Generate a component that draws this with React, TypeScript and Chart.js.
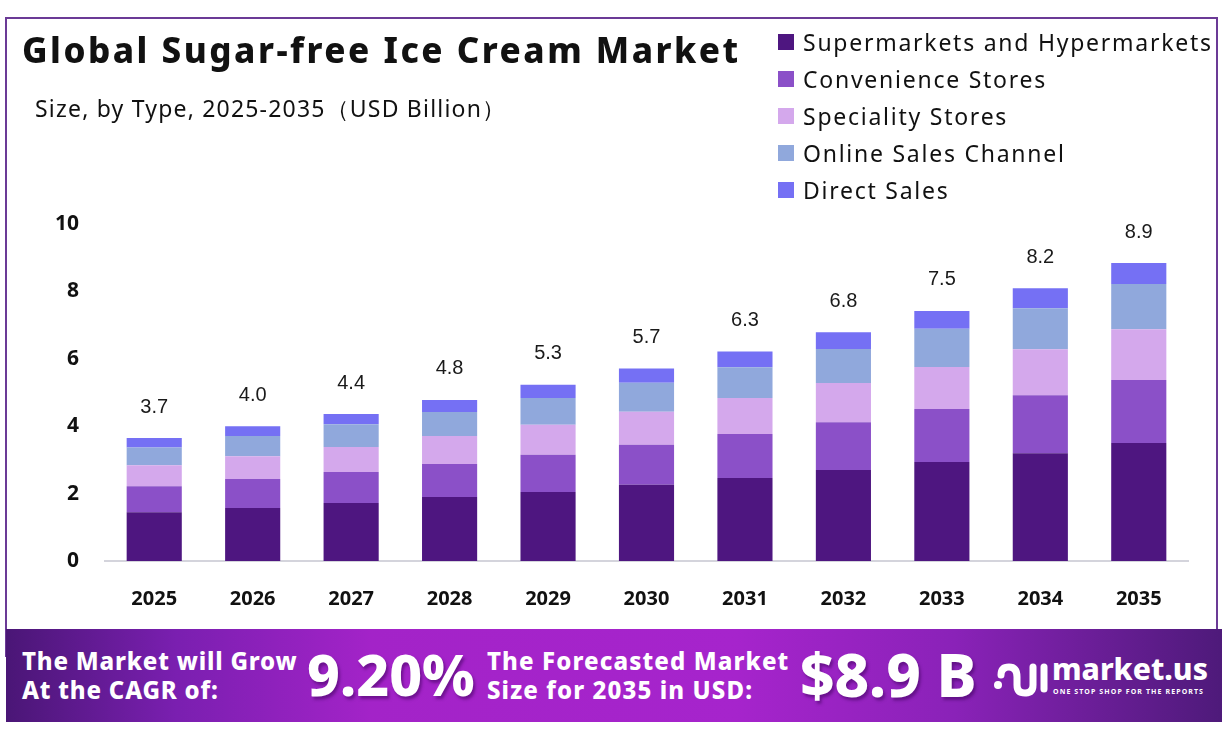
import React, { useEffect, useRef } from "react";
import { Chart, registerables } from "chart.js";

Chart.register(...registerables);

const years = ["2025", "2026", "2027", "2028", "2029", "2030", "2031", "2032", "2033", "2034", "2035"];
const supermarkets = [1.45, 1.57, 1.72, 1.9, 2.05, 2.26, 2.46, 2.7, 2.94, 3.2, 3.5];
const convenience = [0.77, 0.86, 0.92, 0.98, 1.1, 1.19, 1.31, 1.42, 1.57, 1.72, 1.87];
const speciality = [0.62, 0.68, 0.74, 0.83, 0.89, 0.98, 1.07, 1.16, 1.25, 1.36, 1.51];
const online = [0.53, 0.6, 0.68, 0.71, 0.8, 0.86, 0.91, 1.01, 1.13, 1.22, 1.34];
const direct = [0.28, 0.29, 0.3, 0.36, 0.39, 0.42, 0.47, 0.5, 0.53, 0.59, 0.62];
const totals = ["3.7", "4.0", "4.4", "4.8", "5.3", "5.7", "6.3", "6.8", "7.5", "8.2", "8.9"];
const seriesNames = [
  "Supermarkets and Hypermarkets",
  "Convenience Stores",
  "Speciality Stores",
  "Online Sales Channel",
  "Direct Sales",
];
const seriesColors = ["#4e1680", "#8b50c8", "#d4a8ec", "#90a8dc", "#7570f4"];
const yTicks = [0, 2, 4, 6, 8, 10];

const FONT = "'Noto Sans', 'DejaVu Sans', sans-serif";

const totalsPlugin = {
  id: "totals",
  afterDatasetsDraw(chart: any) {
    const ctx = chart.ctx;
    const last = chart.getDatasetMeta(chart.data.datasets.length - 1);
    ctx.save();
    ctx.font = "20px 'Liberation Sans', Arial, sans-serif";
    ctx.fillStyle = "#1a1a1a";
    ctx.textAlign = "center";
    ctx.textBaseline = "middle";
    last.data.forEach((bar: any, i: number) => {
      ctx.fillText(totals[i], bar.x, bar.y - 31);
    });
    ctx.restore();
  },
};

function ChartCanvas() {
  const ref = useRef<HTMLCanvasElement | null>(null);
  useEffect(() => {
    if (!ref.current) return;
    const data = [supermarkets, convenience, speciality, online, direct];
    const chart = new Chart(ref.current, {
      type: "bar",
      data: {
        labels: years,
        datasets: data.map((d, i) => ({
          label: seriesNames[i],
          data: d,
          backgroundColor: seriesColors[i],
          borderWidth: 0,
          barPercentage: 0.56,
          categoryPercentage: 1,
        })),
      },
      options: {
        animation: false,
        responsive: false,
        maintainAspectRatio: false,
        devicePixelRatio: 1,
        layout: { padding: { left: 0, top: 224, right: 36, bottom: 0 } },
        plugins: {
          legend: { display: false },
          tooltip: { enabled: false },
          title: { display: false },
        },
        scales: {
          x: {
            stacked: true,
            grid: { display: false, drawTicks: false },
            border: { display: true, color: "#d4d4dc", width: 2 },
            ticks: {
              padding: 26,
              color: "#111",
              font: { family: FONT, size: 20, weight: "bold" },
            },
            afterFit: (s: any) => {
              s.height = 741 - 561;
            },
          },
          y: {
            stacked: true,
            min: 0,
            max: 10,
            grid: { display: false, drawTicks: false },
            border: { display: false },
            afterBuildTicks: (s: any) => {
              s.ticks = yTicks.map((v) => ({ value: v }));
            },
            ticks: {
              padding: 26,
              color: "#111",
              font: { family: FONT, size: 21, weight: "bold" },
            },
            afterFit: (s: any) => {
              s.width = 105;
            },
          },
        },
      },
      plugins: [totalsPlugin],
    });
    return () => chart.destroy();
  }, []);
  return (
    <canvas
      ref={ref}
      width={1224}
      height={741}
      style={{ position: "absolute", left: 0, top: 0, width: 1224, height: 741 }}
    />
  );
}

export default function App() {
  return (
    <div
      style={{
        position: "fixed",
        left: 0,
        top: 0,
        width: 1224,
        height: 741,
        background: "#fff",
        overflow: "hidden",
        fontFamily: FONT,
      }}
    >
      <div
        style={{
          position: "absolute",
          left: 5,
          top: 17,
          width: 1213,
          height: 640,
          border: "2px solid #6b3a96",
          boxSizing: "border-box",
        }}
      />
      <ChartCanvas />
      <div
        style={{
          position: "absolute",
          left: 22,
          top: 27,
          fontSize: 35,
          fontWeight: 800,
          lineHeight: "46px",
          color: "#111",
          whiteSpace: "nowrap",
          letterSpacing: 2.5,
        }}
      >
        Global Sugar-free Ice Cream Market
      </div>
      <div
        style={{
          position: "absolute",
          left: 35,
          top: 92,
          fontSize: 23,
          lineHeight: "32px",
          color: "#111",
          whiteSpace: "nowrap",
          letterSpacing: 1.2,
        }}
      >
        Size, by Type, 2025-2035（USD Billion）
      </div>
      <div style={{ position: "absolute", left: 778, top: 23 }}>
        {seriesNames.map((n, i) => (
          <div
            key={n}
            style={{ display: "flex", alignItems: "center", height: 37, whiteSpace: "nowrap" }}
          >
            <div style={{ width: 16, height: 16, background: seriesColors[i], marginRight: 9 }} />
            <span style={{ fontSize: 23, color: "#111", letterSpacing: 1.75 }}>{n}</span>
          </div>
        ))}
      </div>
      <div
        style={{
          position: "absolute",
          left: 6,
          top: 629,
          width: 1216,
          height: 93,
          background:
            "linear-gradient(90deg, #4a1676 0%, #7a1fb0 14%, #a323c8 30%, #a624cc 60%, #8a22b8 78%, #4e1a7a 100%)",
          color: "#fff",
        }}
      >
        <div
          style={{
            position: "absolute",
            left: 16,
            top: 17,
            fontSize: 24,
            fontWeight: 800,
            lineHeight: "29px",
            whiteSpace: "nowrap",
            letterSpacing: 0.8,
          }}
        >
          The Market will Grow
          <br />
          At the CAGR of:
        </div>
        <div
          style={{
            position: "absolute",
            left: 301,
            top: 7,
            fontSize: 57,
            fontWeight: 800,
            lineHeight: "76px",
            whiteSpace: "nowrap",
            textShadow: "2px 3px 3px rgba(60,0,90,0.5)",
          }}
        >
          9.20%
        </div>
        <div
          style={{
            position: "absolute",
            left: 481,
            top: 17,
            fontSize: 24,
            fontWeight: 800,
            lineHeight: "29px",
            whiteSpace: "nowrap",
            letterSpacing: 1.1,
          }}
        >
          The Forecasted Market
          <br />
          Size for 2035 in USD:
        </div>
        <div
          style={{
            position: "absolute",
            left: 794,
            top: 6,
            fontSize: 60,
            fontWeight: 800,
            lineHeight: "78px",
            whiteSpace: "nowrap",
            textShadow: "2px 3px 3px rgba(60,0,90,0.5)",
          }}
        >
          $8.9 B
        </div>
        <svg
          style={{ position: "absolute", left: 987, top: 30 }}
          width={56}
          height={42}
          viewBox="0 0 56 42"
        >
          <circle cx="5" cy="26" r="4" fill="#fff" />
          <path
            d="M8 16 Q8 8 16 8 Q24 8 24 18 L24 26 Q24 34 32 34 Q40 34 40 26 L40 8"
            stroke="#fff"
            strokeWidth="7"
            fill="none"
            strokeLinecap="round"
          />
          <path d="M51 8 L51 30" stroke="#fff" strokeWidth="7" strokeLinecap="round" />
        </svg>
        <div
          style={{
            position: "absolute",
            left: 1046,
            top: 22,
            fontSize: 30,
            fontWeight: 800,
            lineHeight: "36px",
            whiteSpace: "nowrap",
          }}
        >
          market.us
        </div>
        <div
          style={{
            position: "absolute",
            left: 1047,
            top: 58,
            fontSize: 7,
            fontWeight: 700,
            letterSpacing: 1.1,
            whiteSpace: "nowrap",
          }}
        >
          ONE STOP SHOP FOR THE REPORTS
        </div>
      </div>
    </div>
  );
}
